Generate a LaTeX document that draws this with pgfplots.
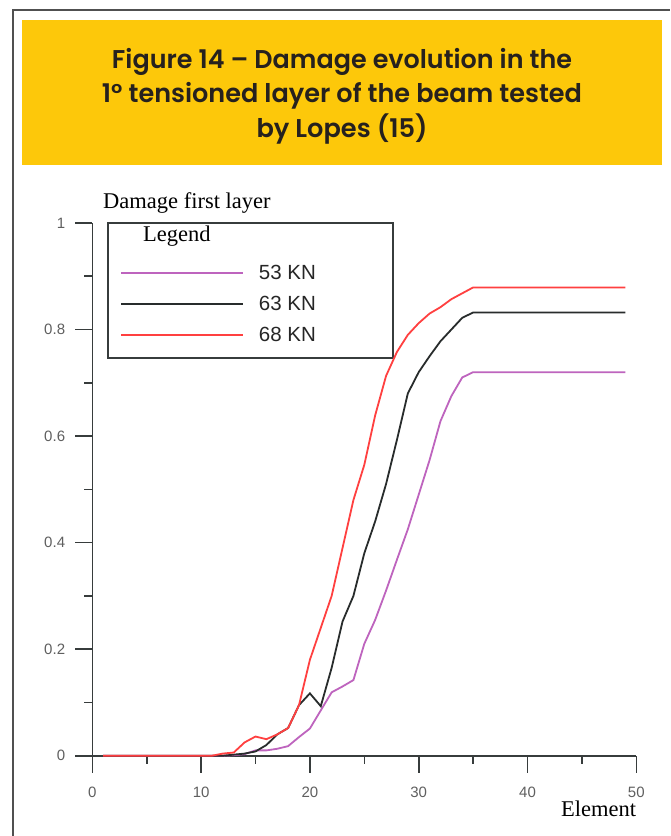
\documentclass[border=0pt]{standalone}
\usepackage{fontspec}
\usepackage{pgfplots}
\usepackage{pgfplotstable}
\usepackage{graphicx}
\pgfplotsset{compat=1.18}
\setmainfont{Liberation Serif}
\newfontfamily\titlefont[UprightFont={* SemiBold}]{Poppins}
\newfontfamily\sansf{Liberation Sans}
\newfontfamily\seriff{Liberation Serif}
\definecolor{banner}{RGB}{253,200,10}
\definecolor{titletext}{RGB}{38,33,30}
\definecolor{cpurple}{RGB}{190,100,190}
\definecolor{cblack}{RGB}{40,44,44}
\definecolor{cred}{RGB}{255,64,64}
\definecolor{axcol}{RGB}{55,60,60}
\definecolor{tickcol}{RGB}{95,95,95}
\definecolor{framecol}{RGB}{80,80,80}

\pgfplotstableread{
x p b r
1 0 0 0
2 0 0 0
3 0 0 0
4 0 0 0
5 0 0 0
6 0 0 0
7 0 0 0
8 0 0 0
9 0 0 0
10 0 0 0
11 0 0 0
12 0 0 0.004
13 0.001 0.002 0.006
14 0.003 0.004 0.025
15 0.010 0.008 0.036
16 0.010 0.020 0.031
17 0.013 0.040 0.040
18 0.018 0.052 0.052
19 0.035 0.095 0.095
20 0.051 0.117 0.180
21 0.085 0.093 0.240
22 0.119 0.165 0.300
23 0.130 0.252 0.390
24 0.142 0.300 0.480
25 0.210 0.380 0.546
26 0.255 0.440 0.639
27 0.310 0.510 0.713
28 0.368 0.593 0.758
29 0.425 0.680 0.790
30 0.490 0.720 0.812
31 0.555 0.750 0.830
32 0.628 0.778 0.842
33 0.675 0.800 0.857
34 0.710 0.822 0.868
35 0.720 0.832 0.879
36 0.720 0.832 0.879
37 0.720 0.832 0.879
38 0.720 0.832 0.879
39 0.720 0.832 0.879
40 0.720 0.832 0.879
41 0.720 0.832 0.879
42 0.720 0.832 0.879
43 0.720 0.832 0.879
44 0.720 0.832 0.879
45 0.720 0.832 0.879
46 0.720 0.832 0.879
47 0.720 0.832 0.879
48 0.720 0.832 0.879
49 0.720 0.832 0.879
}\damage

\begin{document}
\begin{tikzpicture}
\useasboundingbox (0pt,0pt) rectangle (670pt,-836pt);
\fill[white] (0pt,0pt) rectangle (670pt,-836pt);
\draw[line width=1.4pt, framecol] (13pt,-836pt) -- (13pt,-10pt) -- (670pt,-10pt);
\fill[banner] (22pt,-20pt) rectangle (662pt,-165pt);
\node[anchor=base, text=titletext, inner sep=0pt] at (342pt,-68pt)
  {\resizebox{460pt}{\height}{\titlefont\fontsize{25.7}{30}\selectfont Figure 14 – Damage evolution in the}};
\node[anchor=base, text=titletext, inner sep=0pt] at (342pt,-102.5pt)
  {\resizebox{480pt}{\height}{\titlefont\fontsize{25.7}{30}\selectfont 1° tensioned layer of the beam tested}};
\node[anchor=base, text=titletext, inner sep=0pt] at (342pt,-137pt)
  {\resizebox{171pt}{\height}{\titlefont\fontsize{25.7}{30}\selectfont by Lopes (15)}};

% legend frame and title
\draw[line width=1.6pt, axcol, fill=white] (108pt,-223pt) rectangle (393pt,-358pt);
\node[anchor=base west, inner sep=0pt, text=black] at (143pt,-241.7pt)
  {\seriff\fontsize{22.5}{22.5}\selectfont Legend};

\begin{axis}[
  at={(92.3pt,-755.7pt)}, anchor=south west,
  scale only axis, width=544pt, height=532.7pt,
  xmin=0, xmax=50, ymin=0, ymax=1,
  axis x line=bottom, axis y line=left,
  axis line style={-, line width=1.6pt, color=axcol},
  xtick={0,10,20,30,40,50}, minor xtick={5,15,25,35,45},
  ytick={0,0.2,0.4,0.6,0.8,1}, minor ytick={0.1,0.3,0.5,0.7,0.9},
  tick align=outside, major tick length=17pt, minor tick length=8pt,
  every tick/.style={line width=1.6pt, color=axcol},
  /pgf/number format/assume math mode=true,
  ticklabel style={font=\sansf\fontsize{15}{15}\selectfont, text=tickcol, inner sep=0pt},
  yticklabel style={anchor=east},
  xticklabel style={anchor=north},
  yticklabel shift=10pt, xticklabel shift=14pt,
  every axis y label/.style={at={(axis description cs:0.0197,1.0263)}, anchor=base west, inner sep=0pt},
  every axis x label/.style={at={(axis description cs:1,-0.1145)}, anchor=base east, inner sep=0pt},
  ylabel={\seriff\fontsize{22.5}{22.5}\selectfont Damage first layer},
  xlabel={\seriff\fontsize{22.5}{22.5}\selectfont Element},
  clip=false,
  legend cell align=left,
  legend image code/.code={\draw[#1] (0pt,0pt) -- (122pt,0pt);},
  legend style={at={(axis description cs:0.0509,0.9219)}, anchor=north west,
    draw=none, fill=none, inner sep=0pt, row sep=15.3pt, column sep=15pt,
    nodes={inner sep=0pt},
    font=\sansf\fontsize{20.5}{20.5}\selectfont, text=black!85},
]
\addplot[cpurple, line width=1.8pt] table[x=x, y=p] {\damage};
\addlegendentry{53 KN}
\addplot[cblack, line width=1.8pt] table[x=x, y=b] {\damage};
\addlegendentry{63 KN}
\addplot[cred, line width=1.8pt] table[x=x, y=r] {\damage};
\addlegendentry{68 KN}
\end{axis}
\end{tikzpicture}
\end{document}
